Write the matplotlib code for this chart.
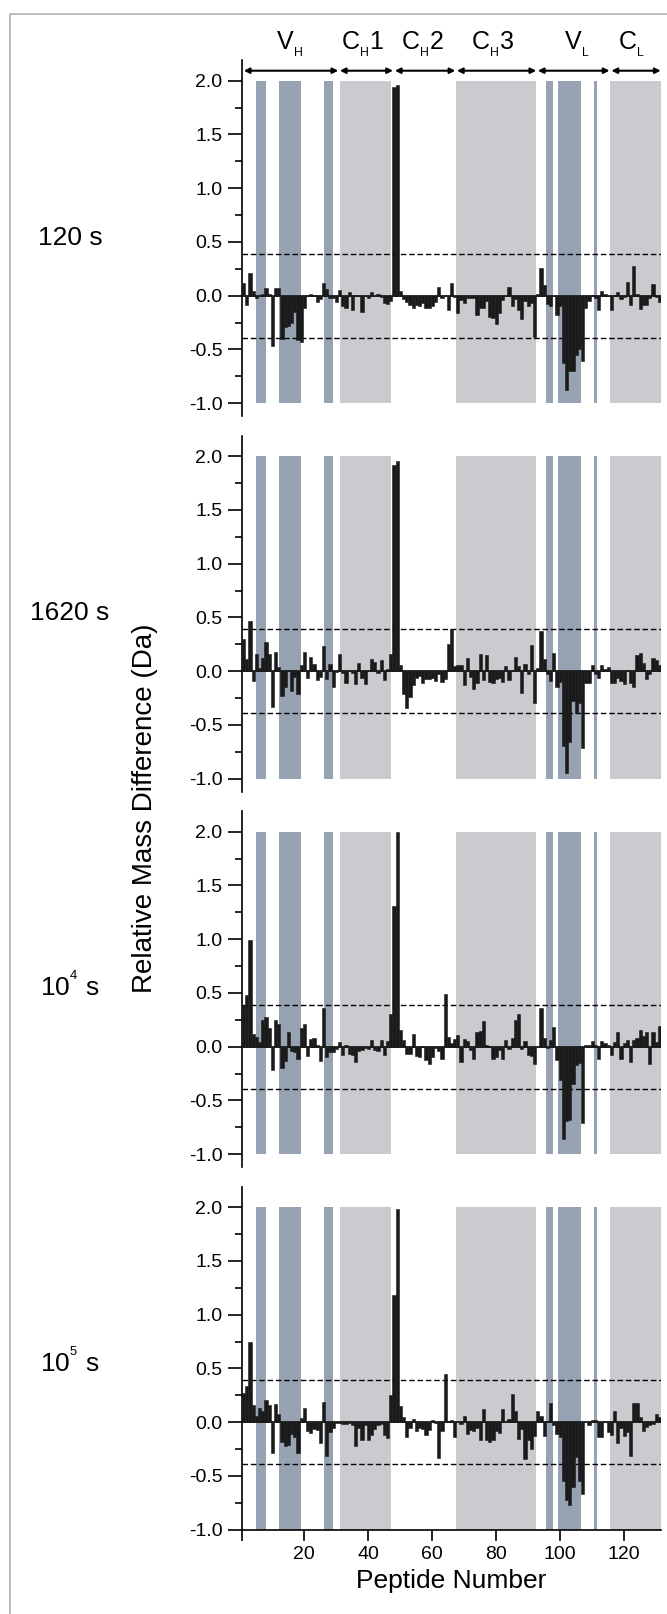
import matplotlib
matplotlib.use('Agg')
import matplotlib.pyplot as plt
from matplotlib.patches import Rectangle
import numpy as np

plt.rcParams['font.family'] = ['Liberation Sans', 'DejaVu Sans']
plt.rcParams['axes.unicode_minus'] = False
plt.rcParams['mathtext.fontset'] = 'custom'
plt.rcParams['mathtext.rm'] = 'Liberation Sans'
plt.rcParams['mathtext.it'] = 'Liberation Sans:italic'
plt.rcParams['mathtext.bf'] = 'Liberation Sans:bold'

#==============================================================================
# Data
#==============================================================================
peptide = np.arange(1, 132)

d120 = [0.115, -0.09, 0.21, 0.04, -0.02, 0.01, 0.02, 0.07, 0.02, -0.47,
        0.07, 0.07, -0.40, -0.29, -0.28, -0.25, -0.15, -0.41, -0.43, -0.11,
        0.005, 0.02, 0.01, -0.06, -0.03, 0.12, 0.06, -0.02, -0.02, -0.06,
        0.05, -0.10, -0.11, 0.03, -0.13, 0.01, 0.0, -0.15, 0.0, -0.02,
        0.03, 0.0, 0.02, -0.01, -0.07, -0.08, -0.05, 1.94, 1.96, 0.04,
        -0.03, -0.06, -0.09, -0.11, -0.09, -0.10, -0.07, -0.11, -0.11, -0.10,
        -0.06, 0.08, -0.02, 0.0, -0.13, 0.12, -0.01, -0.16, -0.04, -0.07,
        -0.02, -0.02, -0.02, -0.18, -0.11, -0.11, -0.05, -0.20, -0.21, -0.26,
        -0.16, -0.04, 0.0, 0.08, -0.10, -0.03, -0.13, -0.22, -0.05, -0.10,
        -0.07, -0.38, 0.02, 0.26, 0.10, -0.08, -0.10, 0.0, -0.18, -0.10,
        -0.63, -0.88, -0.70, -0.70, -0.55, -0.50, -0.61, -0.11, -0.05, 0.01,
        -0.02, -0.13, 0.04, 0.02, 0.0, -0.13, 0.01, 0.03, -0.03, -0.01,
        0.13, -0.09, 0.28, 0.02, -0.12, -0.09, -0.09, -0.02, 0.11, -0.01, -0.06]

d1620 = [0.30, 0.11, 0.47, -0.09, 0.16, 0.03, 0.12, 0.27, 0.16, -0.33,
         0.18, 0.04, -0.23, -0.15, 0.01, -0.18, -0.05, -0.21, 0.06, 0.18,
         -0.06, 0.13, 0.07, -0.08, -0.05, 0.23, -0.07, 0.07, -0.15, -0.01,
         0.16, -0.02, -0.11, 0.0, -0.02, -0.12, 0.08, -0.06, -0.12, 0.0,
         0.11, 0.09, -0.02, 0.10, -0.08, 0.02, 0.16, 1.92, 1.96, 0.06,
         -0.21, -0.34, -0.24, -0.13, -0.06, -0.04, -0.11, -0.07, -0.07, -0.06,
         -0.09, -0.03, -0.10, -0.07, 0.25, 0.39, 0.05, 0.06, 0.06, -0.13,
         0.12, -0.05, -0.17, -0.11, 0.16, -0.08, 0.15, -0.10, -0.11, -0.07,
         -0.06, -0.10, 0.05, -0.08, 0.01, 0.13, 0.05, -0.20, 0.07, -0.03,
         0.24, -0.30, 0.03, 0.37, 0.11, -0.03, -0.09, 0.17, -0.15, -0.10,
         -0.70, -0.95, -0.66, -0.28, -0.39, -0.30, -0.71, -0.11, -0.11, 0.06,
         -0.03, -0.06, 0.06, 0.02, 0.04, -0.11, -0.11, -0.06, -0.09, -0.12,
         0.01, -0.11, -0.15, 0.15, 0.17, 0.08, -0.07, -0.03, 0.12, 0.10, 0.06]

d1e4 = [0.39, 0.48, 0.99, 0.12, 0.09, 0.04, 0.25, 0.28, 0.17, -0.22,
        0.25, 0.21, -0.20, -0.13, 0.14, -0.04, -0.05, -0.11, 0.17, 0.21,
        -0.09, 0.07, 0.08, 0.02, -0.13, 0.36, -0.10, -0.05, -0.05, -0.02,
        0.04, -0.08, 0.02, -0.07, -0.08, -0.14, -0.04, -0.03, -0.01, -0.02,
        0.06, -0.03, -0.04, 0.06, -0.08, 0.05, 0.30, 1.31, 2.00, 0.16,
        0.06, -0.07, -0.07, 0.12, -0.09, -0.10, 0.01, -0.12, -0.16, -0.10,
        -0.01, -0.04, -0.11, 0.49, 0.09, 0.03, 0.07, 0.11, -0.14, 0.07,
        0.05, -0.03, -0.11, 0.14, 0.15, 0.24, 0.02, 0.01, -0.11, -0.10,
        -0.03, -0.11, 0.06, -0.02, 0.08, 0.25, 0.30, -0.02, 0.05, -0.08,
        -0.09, -0.16, 0.0, 0.36, 0.08, -0.01, 0.06, 0.18, -0.12, -0.31,
        -0.86, -0.69, -0.68, -0.35, -0.17, -0.15, -0.71, 0.02, 0.02, 0.05,
        0.02, -0.11, 0.05, 0.03, 0.02, -0.08, 0.04, 0.14, -0.11, 0.03,
        0.06, -0.14, 0.06, 0.08, 0.16, 0.10, 0.14, -0.16, 0.14, 0.04, 0.19]

d1e5 = [0.27, 0.34, 0.75, 0.16, 0.06, 0.13, 0.10, 0.21, 0.16, -0.29,
        0.17, 0.08, -0.18, -0.22, -0.21, -0.11, -0.14, -0.29, 0.04, 0.13,
        -0.08, -0.10, -0.06, -0.07, -0.19, 0.19, -0.31, -0.09, -0.05, -0.01,
        -0.01, -0.02, -0.02, -0.01, -0.03, -0.22, -0.05, -0.17, -0.03, -0.17,
        -0.12, -0.06, -0.03, -0.02, -0.12, -0.15, 0.25, 1.18, 1.98, 0.15,
        0.05, -0.14, -0.05, 0.03, -0.08, -0.05, -0.06, -0.12, -0.07, 0.02,
        -0.01, -0.33, -0.08, 0.45, 0.01, 0.02, -0.14, 0.0, -0.02, 0.06,
        -0.11, -0.07, -0.08, -0.05, -0.17, 0.12, -0.17, -0.18, -0.17, -0.08,
        -0.10, 0.12, 0.0, 0.03, 0.26, 0.10, -0.16, -0.06, -0.34, -0.17,
        -0.25, -0.13, 0.10, 0.06, -0.13, 0.01, 0.18, -0.03, -0.11, -0.14,
        -0.55, -0.72, -0.77, -0.60, -0.32, -0.55, -0.67, 0.0, -0.03, 0.02,
        0.02, -0.14, -0.14, 0.0, -0.09, -0.12, 0.10, -0.19, -0.05, -0.13,
        -0.09, -0.31, 0.18, 0.18, 0.05, -0.08, -0.04, -0.03, -0.02, 0.08, 0.05]

series = [d120, d1620, d1e4, d1e5]
time_labels = ['120 s', '1620 s', r'10$^{^{\rm 4}}$ s', r'10$^{^{\rm 5}}$ s']

# shaded regions (peptide number ranges)
blue_regions = [(5.0, 8.0), (12.0, 19.0), (26.1, 29.1), (95.5, 97.6),
                (99.4, 106.5), (110.6, 111.5)]
grey_regions = [(31.2, 47.2), (67.3, 92.5), (115.7, 131.5)]

# domains at the top
domain_spans = [(1.06, 30.6), (31.1, 47.7), (48.3, 67.2), (67.7, 92.5),
                (93.0, 115.4), (116.0, 131.4)]
domain_pos = [15.4, 38.1, 57.0, 78.9, 105.1, 122.2]
domain_names = [r'V$_{_{\rm H}}$', r'C$_{_{\rm H}}$1', r'C$_{_{\rm H}}$2',
                r'C$_{_{\rm H}}$3', r'V$_{_{\rm L}}$', r'C$_{_{\rm L}}$']

threshold = 0.39

#==============================================================================
# Figure
#==============================================================================
W, H = 667, 1614
fig = plt.figure(figsize=(W/100, H/100), dpi=100)

blue = '#97a2b3'
grey = '#c9cbce'
barcol = '#1a1a1a'

left_px, right_px = 242, 661
y2_px = [80.7, 456.2, 831.7, 1207.2]
scale = 107.5

axes = []
for i, vals in enumerate(series):
    ytop = 2.19
    ybot = -1.12 if i < 3 else -1.0
    top = y2_px[i] - (ytop - 2.0)*scale
    bottom = y2_px[i] + (2.0 - ybot)*scale
    ax = fig.add_axes([left_px/W, 1 - bottom/H, (right_px - left_px)/W, (bottom - top)/H])
    ax.set_xlim(0.5, 131.5)
    ax.set_ylim(ybot, ytop)

    for x0, x1 in blue_regions:
        ax.fill_between([x0, x1], -1.0, 2.0, color=blue, lw=0, zorder=0)
    for x0, x1 in grey_regions:
        ax.fill_between([x0, x1], -1.0, 2.0, color=grey, lw=0, zorder=0)

    ax.axhline(threshold, color='black', ls=(0, (4, 2)), lw=1.0, zorder=2)
    ax.axhline(-threshold, color='black', ls=(0, (4, 2)), lw=1.0, zorder=2)
    ax.bar(peptide, vals, width=1.0, color=barcol, edgecolor=barcol, lw=0.4, zorder=3)
    ax.axhline(0, color=barcol, lw=1.3, zorder=4)

    for s in ['top', 'right']:
        ax.spines[s].set_visible(False)
    ax.spines['left'].set_linewidth(1.2)
    ax.set_yticks(np.arange(-1.0, 2.01, 0.5))
    ax.set_yticks(np.arange(-0.75, 2.0, 0.5), minor=True)
    ax.set_yticklabels(['%.1f' % v for v in np.arange(-1.0, 2.01, 0.5)])
    ax.tick_params(axis='y', which='major', direction='out', length=10, width=1.2,
                   labelsize=14, pad=4)
    ax.tick_params(axis='y', which='minor', direction='out', length=5, width=1.2)

    if i < 3:
        ax.spines['bottom'].set_visible(False)
        ax.set_xticks([])
    else:
        ax.spines['bottom'].set_linewidth(1.2)
        ax.set_xticks([0.5, 20, 40, 60, 80, 100, 120])
        ax.set_xticklabels(['', '20', '40', '60', '80', '100', '120'])
        ax.tick_params(axis='x', direction='out', length=8, width=1.2,
                       labelsize=14, pad=4)
        ax.set_xlabel('Peptide Number', fontsize=19, labelpad=4)

    fig.text(70/W, 1 - (245 + 375.5*i)/H, time_labels[i], ha='center',
             va='baseline', fontsize=19)
    axes.append(ax)

# domain arrows and labels on the top panel
ax0 = axes[0]
for (x0, x1) in domain_spans:
    ax0.annotate('', xy=(x1, 2.093), xytext=(x0, 2.093),
                 arrowprops=dict(arrowstyle='<|-|>', color='black', lw=1.5,
                                 shrinkA=0, shrinkB=0, mutation_scale=8),
                 annotation_clip=False)
for x, name in zip(domain_pos, domain_names):
    ax0.text(x, 2.0 + (80.7 - 50)/scale, name, ha='center', va='baseline',
             fontsize=18, clip_on=False)

fig.text(145/W, 1 - 808/H, 'Relative Mass Difference (Da)', rotation=90,
         ha='center', va='center', fontsize=20)

# thin frame round the figure
fig.patches.append(Rectangle((10/W, -0.01), 1.0, 1 - 14/H + 0.01, fill=False,
                             edgecolor='#b0b0b0', lw=1.2, transform=fig.transFigure))

fig.savefig('out.png', dpi=100)
